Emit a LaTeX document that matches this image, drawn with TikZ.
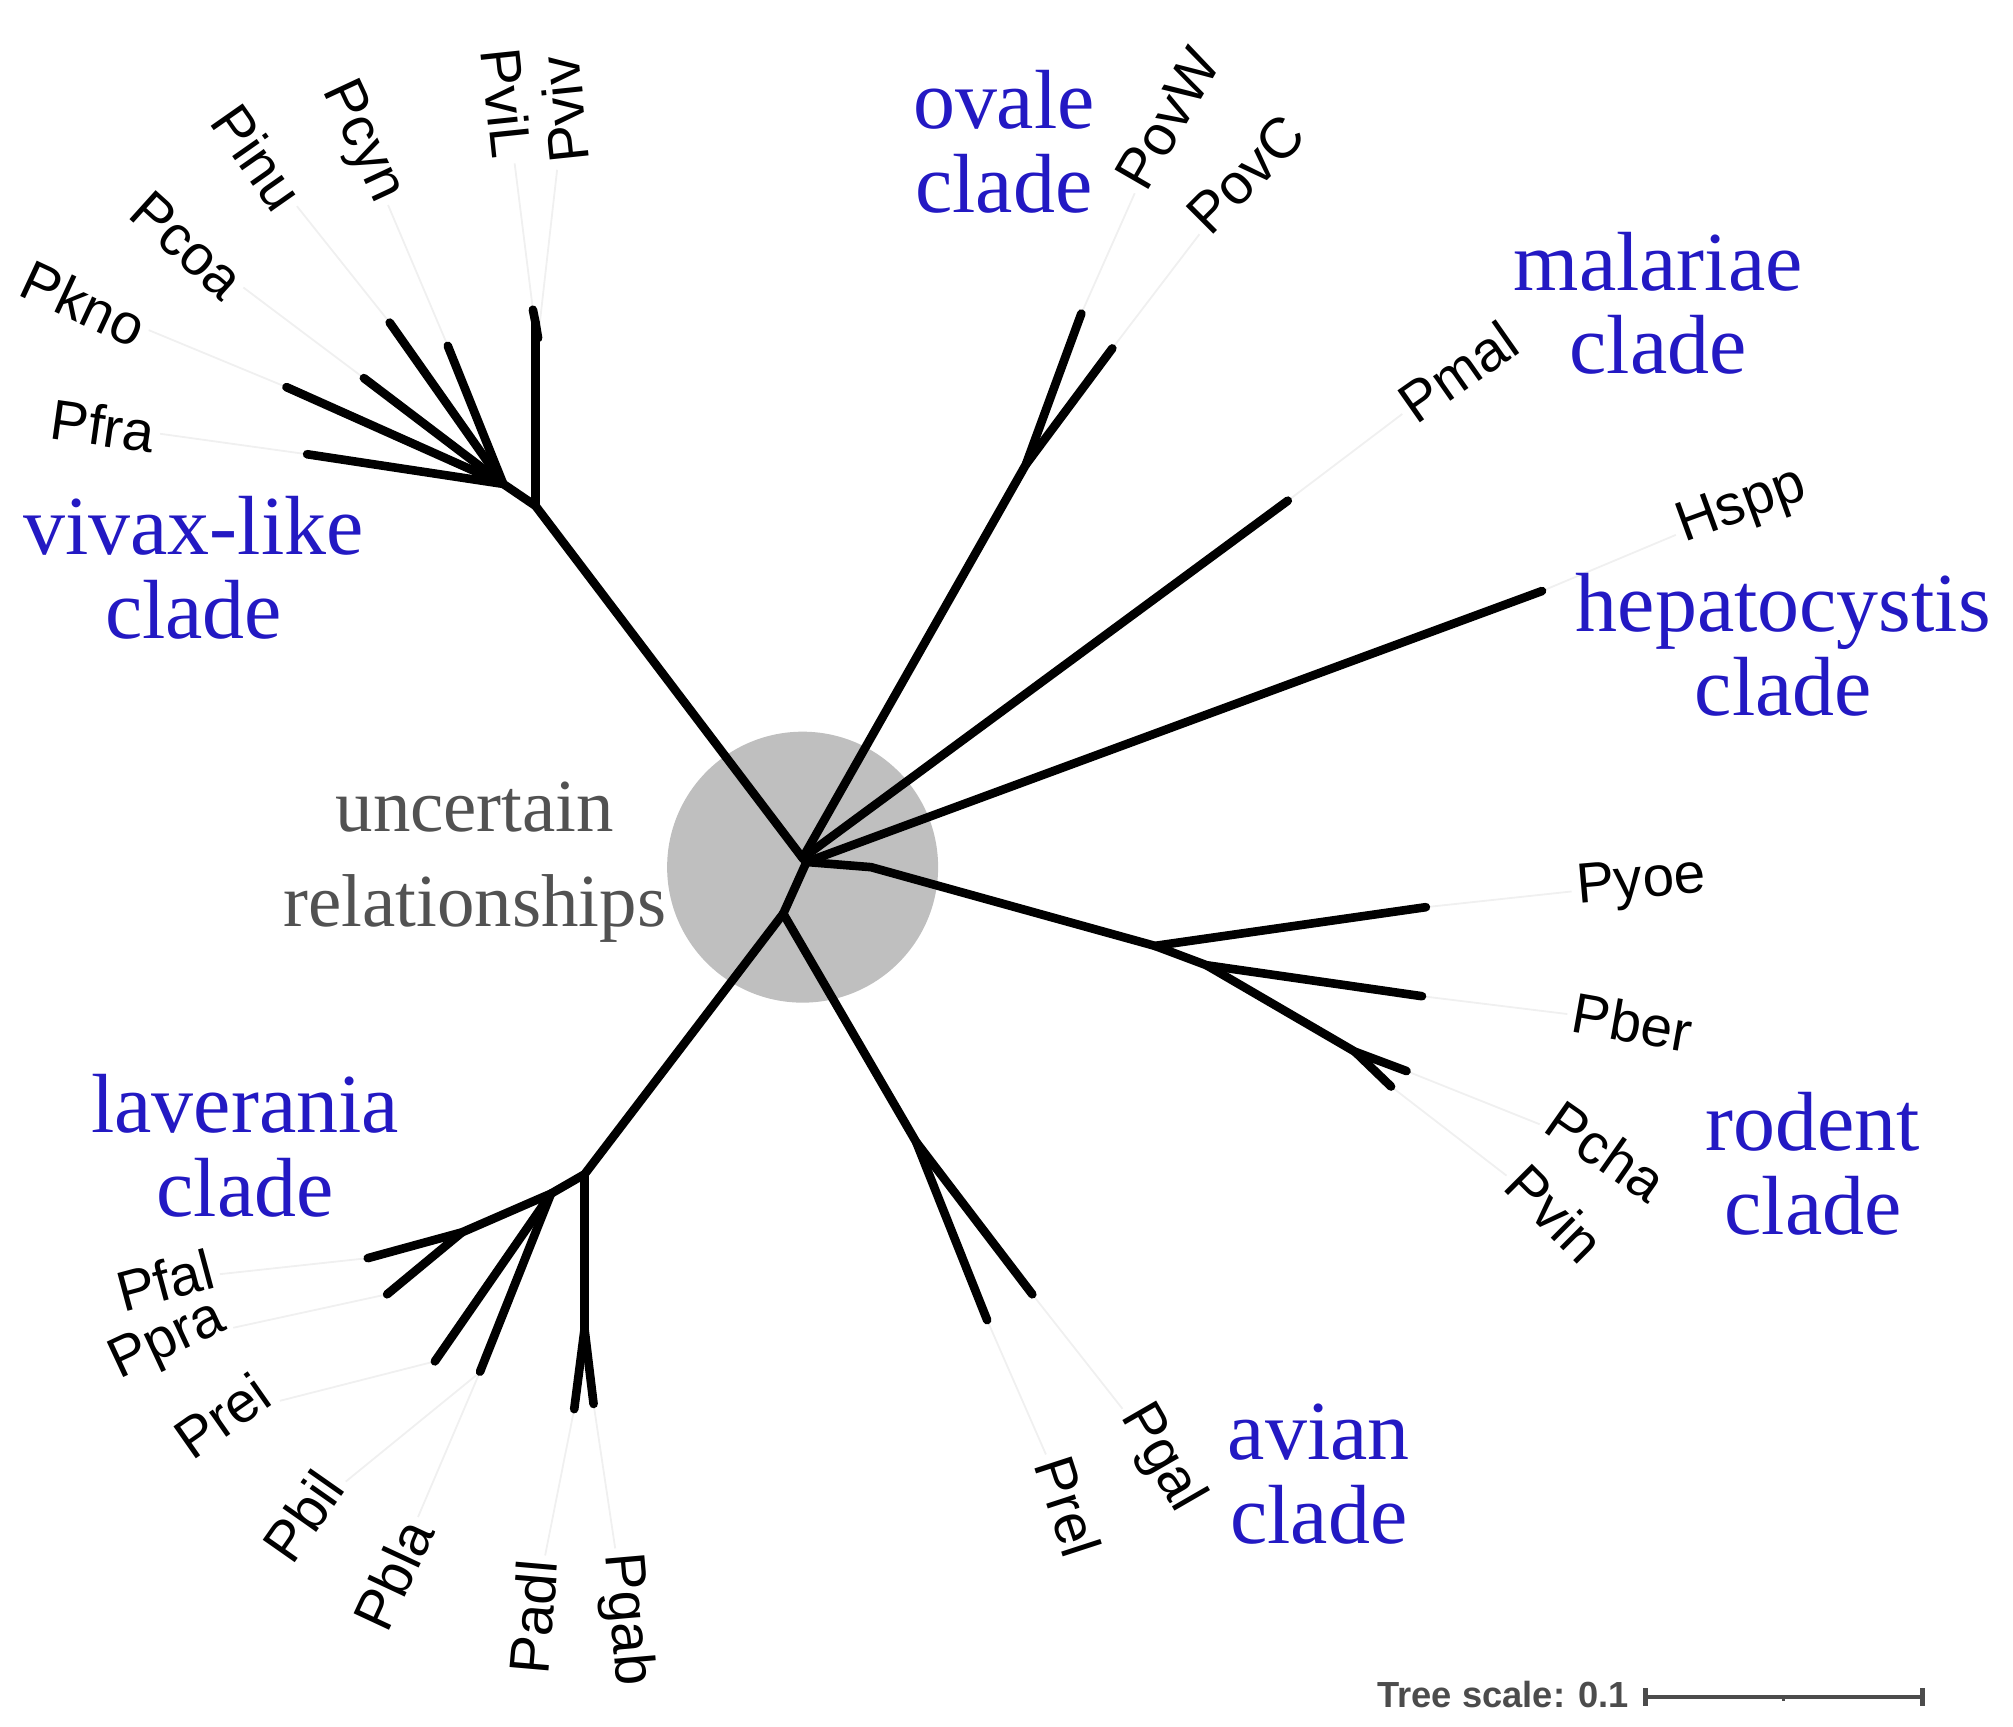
\documentclass[tikz,border=0pt]{standalone}
\usepackage{fontspec}
\setmainfont{Liberation Serif}
\newfontfamily\lab{Liberation Sans}
\begin{document}
\begin{tikzpicture}[x=0.01cm,y=-0.01cm,
 br/.style={line width=1.9pt,line cap=round},
 lead/.style={black!6,line width=0.4pt},
 leaf/.style={font=\lab\fontsize{12.5}{14}\selectfont,inner sep=1pt},
 clade/.style={font=\fontsize{18.5}{21.5}\selectfont,text=cladeblue,align=center},
 pt/.style={coordinate}]
\definecolor{cladeblue}{RGB}{35,25,195}
\useasboundingbox (0,0) rectangle (1560,1338);
\fill[black!25] (622,672) circle (105);
\node[clade,text=black!68,font=\fontsize{16.5}{19}\selectfont] (unc) at (368,668) {uncertain\\[2pt]relationships};
% internal nodes
\node[pt] (r) at (622,665) {};
\node[pt] (r2) at (625,668) {};
\node[pt] (vx) at (415,392) {};
\node[pt] (vx2) at (390,375) {};
\node[pt] (vv) at (415,250) {};
\node[pt] (ov) at (795,360) {};
\node[pt] (ro0) at (675,672) {};
\node[pt] (ro) at (895,733) {};
\node[pt] (ro2) at (935,748) {};
\node[pt] (ro3) at (1050,815) {};
\node[pt] (dn) at (607,708) {};
\node[pt] (av) at (710,885) {};
\node[pt] (la) at (453,910) {};
\node[pt] (la2) at (427,925) {};
\node[pt] (la3) at (358,955) {};
\node[pt] (la4) at (453,1030) {};
% tips
\node[pt] (tPviv) at (417,262) {};
\node[pt] (tPviL) at (413,240) {};
\node[pt] (tPfra) at (238,352) {};
\node[pt] (tPkno) at (222,300) {};
\node[pt] (tPcoa) at (282,293) {};
\node[pt] (tPinu) at (302,250) {};
\node[pt] (tPcyn) at (347,268) {};
\node[pt] (tPovW) at (838,243) {};
\node[pt] (tPovC) at (862,270) {};
\node[pt] (tPmal) at (998,388) {};
\node[pt] (tHspp) at (1195,458) {};
\node[pt] (tPyoe) at (1105,703) {};
\node[pt] (tPber) at (1102,772) {};
\node[pt] (tPcha) at (1090,830) {};
\node[pt] (tPvin) at (1078,842) {};
\node[pt] (tPgal) at (800,1003) {};
\node[pt] (tPrel) at (765,1023) {};
\node[pt] (tPfal) at (285,975) {};
\node[pt] (tPpra) at (300,1003) {};
\node[pt] (tPrei) at (337,1055) {};
\node[pt] (tPbil) at (370,1065) {};
\node[pt] (tPbla) at (372,1063) {};
\node[pt] (tPadl) at (445,1092) {};
\node[pt] (tPgab) at (460,1088) {};
% labels
\node[leaf,rotate=-25] (Pkno) at (65,235) {Pkno};
\node[leaf,rotate=-42] (Pcoa) at (145,190) {Pcoa};
\node[leaf,rotate=-55] (Pinu) at (200,122) {Pinu};
\node[leaf,rotate=-65] (Pcyn) at (280,110) {Pcyn};
\node[leaf,rotate=-84] (PviL) at (393,80) {PviL};
\node[leaf,rotate=96] (Pviv) at (437,85) {Pviv};
\node[leaf,rotate=-8] (Pfra) at (80,330) {Pfra};
\node[leaf,rotate=60] (PovW) at (905,92) {PovW};
\node[leaf,rotate=45] (PovC) at (965,135) {PovC};
\node[leaf,rotate=35] (Pmal) at (1130,288) {Pmal};
\node[leaf,rotate=20] (Hspp) at (1350,393) {Hspp};
\node[leaf,rotate=5] (Pyoe) at (1272,685) {Pyoe};
\node[leaf,rotate=-10] (Pber) at (1265,792) {Pber};
\node[leaf,rotate=-35] (Pcha) at (1245,892) {Pcha};
\node[leaf,rotate=-45] (Pvin) at (1205,940) {Pvin};
\node[leaf,rotate=-60] (Pgal) at (900,1130) {Pgal};
\node[leaf,rotate=-72] (Prel) at (828,1167) {Prel};
\node[leaf,rotate=15] (Pfal) at (128,992) {Pfal};
\node[leaf,rotate=25] (Ppra) at (130,1040) {Ppra};
\node[leaf,rotate=35] (Prei) at (172,1097) {Prei};
\node[leaf,rotate=55] (Pbil) at (235,1175) {Pbil};
\node[leaf,rotate=65] (Pbla) at (305,1220) {Pbla};
\node[leaf,rotate=85] (Padl) at (413,1253) {Padl};
\node[leaf,rotate=-85] (Pgab) at (485,1255) {Pgab};
% leader lines
\foreach \n in {Pviv,PviL,Pfra,Pkno,Pcoa,Pinu,Pcyn,PovW,PovC,Pmal,Hspp,Pyoe,Pber,Pcha,Pvin,Pgal,Prel,Pfal,Ppra,Prei,Pbil,Pbla,Padl,Pgab}
  \draw[lead] (t\n) -- (\n);
% clade labels
\node[clade] (cov) at (778,110) {ovale\\[-3pt]clade};
\node[clade] (cma) at (1285,235) {malariae\\[-3pt]clade};
\node[clade] (che) at (1382,500) {hepatocystis\\[-3pt]clade};
\node[clade] (cvx) at (150,440) {vivax-like\\[-3pt]clade};
\node[clade] (cro) at (1405,902) {rodent\\[-3pt]clade};
\node[clade] (cav) at (1022,1142) {avian\\[-3pt]clade};
\node[clade] (cla) at (190,888) {laverania\\[-3pt]clade};
% branches
\draw[br] (r) -- (vx) -- (vx2);
\draw[br] (vx) -- (vv) -- (tPviL); \draw[br] (vv) -- (tPviv);
\draw[br] (vx2) -- (tPfra); \draw[br] (vx2) -- (tPkno); \draw[br] (vx2) -- (tPcoa);
\draw[br] (vx2) -- (tPinu); \draw[br] (vx2) -- (tPcyn);
\draw[br] (r) -- (ov) -- (tPovW); \draw[br] (ov) -- (tPovC);
\draw[br] (r) -- (tPmal);
\draw[br] (r2) -- (tHspp);
\draw[br] (r2) -- (ro0) -- (ro) -- (tPyoe);
\draw[br] (ro) -- (ro2) -- (tPber);
\draw[br] (ro2) -- (ro3) -- (tPcha); \draw[br] (ro3) -- (tPvin);
\draw[br] (r) -- (r2) -- (dn);
\draw[br] (dn) -- (av) -- (tPgal); \draw[br] (av) -- (tPrel);
\draw[br] (dn) -- (la) -- (la2) -- (la3) -- (tPfal); \draw[br] (la3) -- (tPpra);
\draw[br] (la2) -- (tPrei); \draw[br] (la2) -- (tPbla);
\draw[br] (la) -- (la4) -- (tPadl); \draw[br] (la4) -- (tPgab);
% scale
\node[font=\lab\bfseries\fontsize{8}{9}\selectfont,text=black!70] (ts) at (1165,1313) {Tree scale: 0.1};
\coordinate (s1) at (1275,1315); \coordinate (s2) at (1490,1315); \coordinate (s3) at (1382,1315);
\draw[black!70,line width=1pt] (s1) -- (s2);
\draw[black!70,line width=1pt] ([yshift=-0.07cm]s1) -- ([yshift=0.07cm]s1);
\draw[black!70,line width=1pt] ([yshift=-0.07cm]s2) -- ([yshift=0.07cm]s2);
\draw[black!70,line width=0.6pt] (s3) -- ([yshift=-0.03cm]s3);
\end{tikzpicture}
\end{document}
